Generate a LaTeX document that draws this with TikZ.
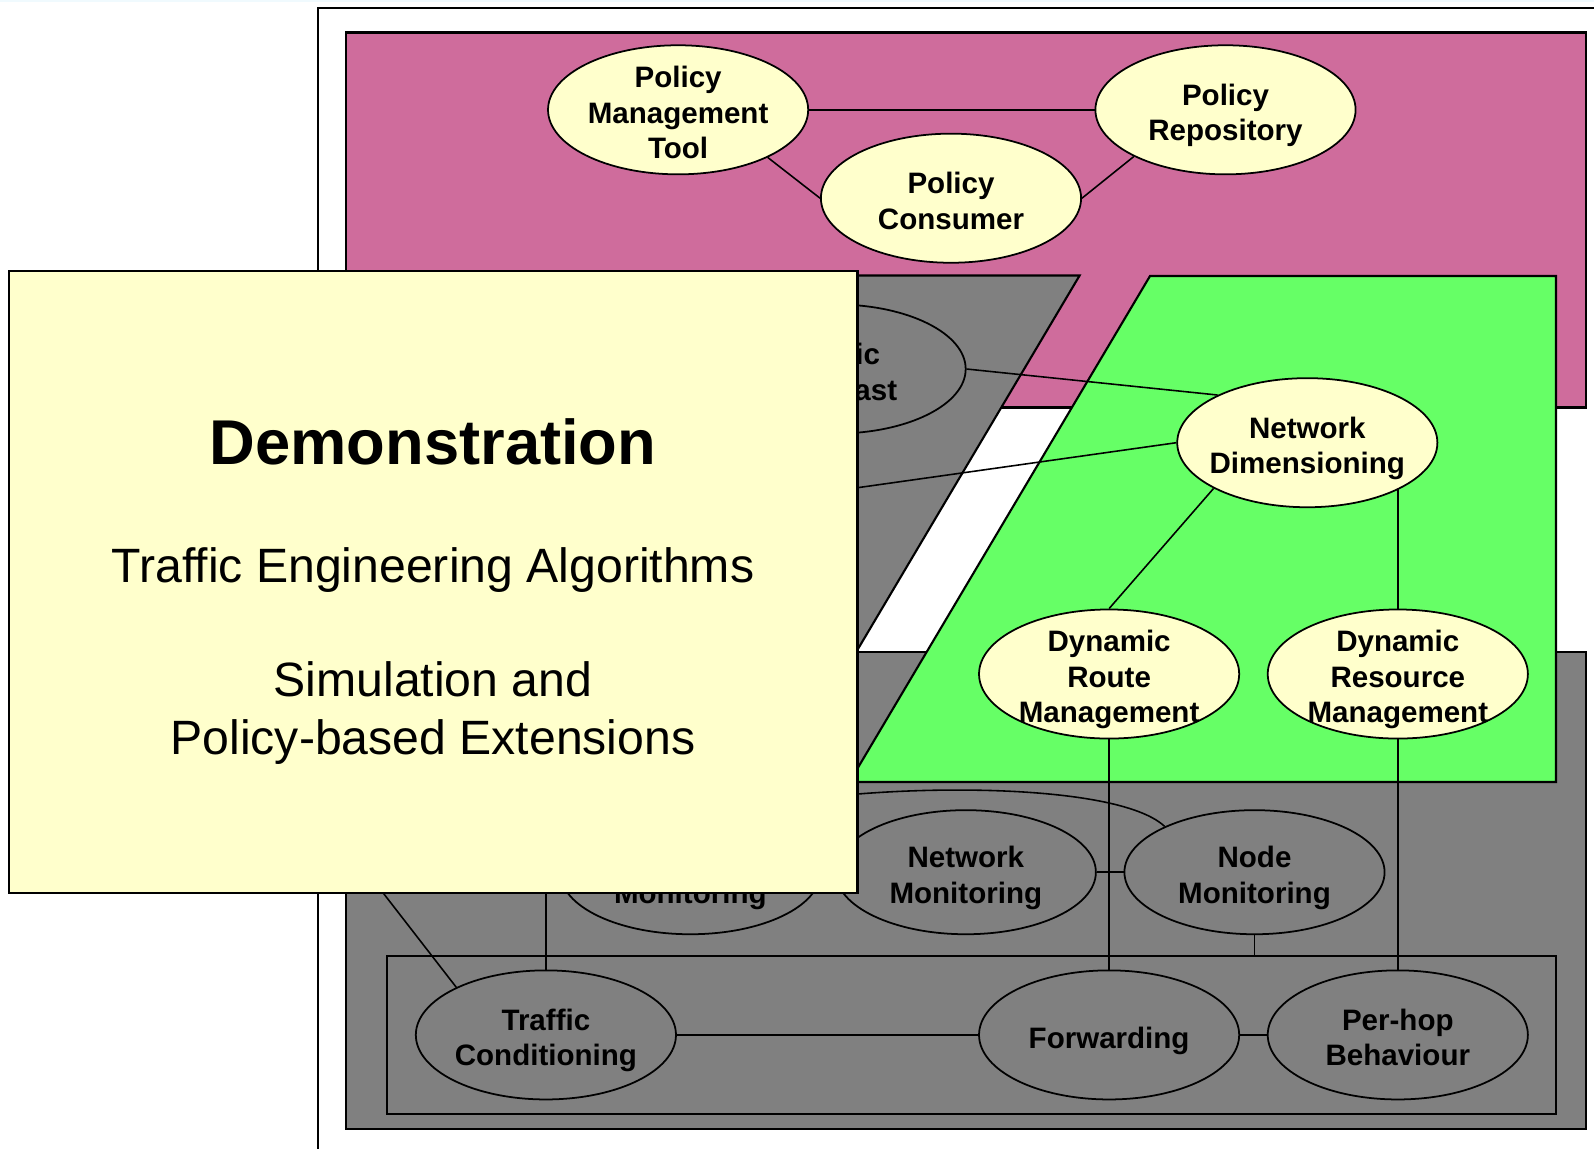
\documentclass[tikz,border=0pt]{standalone}
\usepackage{fontspec}
\setmainfont{Liberation Sans}
\usetikzlibrary{shapes.geometric}

\definecolor{policypink}{RGB}{207,108,156}
\definecolor{layergray}{RGB}{128,128,128}
\definecolor{layergreen}{RGB}{102,255,102}
\definecolor{paleyellow}{RGB}{255,255,204}

% lines of a component label, sitting a little low in the ellipse
\newcommand{\cbox}[1]{\raisebox{0pt}[\dimexpr\height+3.5pt\relax][\depth]{\begin{tabular}{@{}c@{}}#1\end{tabular}}}

\begin{document}
\begin{tikzpicture}[
		x=0.01cm,
		y=-0.01cm,
		line join=miter,
		layer/.style={draw=black, line width=0.6pt},
		comp/.style={ellipse, draw=black, line width=0.5pt, inner sep=-4mm,
			minimum width=2.6cm, minimum height=1.29cm,
			font=\fontsize{8.4}{10.1}\selectfont\bfseries},
		upper/.style={comp, fill=paleyellow},
		lower/.style={comp, fill=layergray},
		mon/.style={lower, minimum height=1.24cm},
		link/.style={draw=black, line width=0.45pt}
	]

	\useasboundingbox (0,0) rectangle (1594,1148);

	% Frame
	\fill[cyan!6] (0,0) rectangle (1594,2);
	\draw[layer, fill=white] (318.2,8.1) rectangle (1700,1300);

	% Layers
	\draw[layer, fill=policypink] (345.6,32.5) rectangle (1585.9,407.5);
	\draw[layer, fill=layergray] (345.6,275.5) -- (1079.6,275.5) -- (857,650.6) -- (345.6,650.6) -- cycle;
	\draw[layer, fill=layergray] (345.6,652.3) rectangle (1585.9,1128.7);
	\draw[layer, fill=layergreen] (1150,276) -- (1556,276) -- (1556,782) -- (849.4,782) -- cycle;
	\draw[layer] (387.3,955.6) rectangle (1556,1114);
	\coordinate (innertop) at (387.3,955.6);

	% Policy components
	\node[upper] (pmt) at (678.1,109.8) {\cbox{Policy\\Management\\Tool}};
	\node[upper] (prep) at (1225.5,109.8) {\cbox{Policy\\Repository}};
	\node[upper] (pcons) at (951,198.2) {\cbox{Policy\\Consumer}};

	% Traffic engineering components
	\node[lower] (tfc) at (835.6,369) {\cbox{Traffic\\Forecast}};
	\node[upper] (nd) at (1307.3,442.7) {\cbox{Network\\Dimensioning}};
	\node[upper] (drm) at (1109.1,674) {\cbox{Dynamic\\Route\\Management}};
	\node[upper] (dsm) at (1397.8,674) {\cbox{Dynamic\\Resource\\Management}};

	% Monitoring components
	\node[mon] (sls) at (690.3,872.2) {\cbox{\\Monitoring}};
	\node[mon] (netmon) at (965.8,872.2) {\cbox{Network\\Monitoring}};
	\node[mon] (nodemon) at (1254.5,872.2) {\cbox{Node\\Monitoring}};

	% Data path components
	\node[lower] (tc) at (545.9,1034.9) {\cbox{Traffic\\Conditioning}};
	\node[lower] (fwd) at (1109.1,1034.9) {\cbox{Forwarding}};
	\node[lower] (phb) at (1397.8,1034.9) {\cbox{Per-hop\\Behaviour}};

	% Policy links
	\draw[link] (pmt.east) -- (prep.west);
	\draw[link] (pmt.-28) -- (pcons.west);
	\draw[link] (pcons.east) -- (prep.207);

	% Traffic engineering links
	\coordinate (hidnd) at (711.6,508.3);
	\draw[link] (tfc.east) -- (nd.152);
	\draw[link] (hidnd) -- (nd.west);
	\draw[link] (nd.206) -- (drm.north);
	\draw[link] (nd.-27 -| dsm.north) -- (dsm.north);
	\draw[link] (drm.south) -- (fwd.north);
	\draw[link] (dsm.south) -- (phb.north);

	% Monitoring links
	\draw[link] (netmon.east) -- (nodemon.west);
	\draw[link] (nodemon.south) -- (nodemon.south |- innertop);
	\draw[link] (sls.50) .. controls (820,785) and (1110,775) .. (nodemon.153);

	% Data path links
	\coordinate (hidtca) at (545.9,820);
	\coordinate (hidtcb) at (346.6,845.8);
	\draw[link] (tc.east) -- (fwd.west);
	\draw[link] (fwd.east) -- (phb.west);
	\draw[link] (hidtca) -- (tc.north);
	\draw[link] (hidtcb) -- (tc.152);

	% Title box
	\draw[layer, fill=paleyellow] (9.1,271.4) rectangle (857.5,892.6);
	\node[anchor=base, font=\fontsize{18}{21}\selectfont\bfseries] (demo) at (433,464.6) {Demonstration};
	\node[anchor=base, font=\fontsize{13.7}{16.5}\selectfont] (tealg) at (433,582.5) {Traffic Engineering Algorithms};
	\node[anchor=base, font=\fontsize{13.7}{16.5}\selectfont] (simul) at (433,696.4) {Simulation and};
	\node[anchor=base, font=\fontsize{13.7}{16.5}\selectfont] (polext) at (433,754.3) {Policy-based Extensions};

\end{tikzpicture}
\end{document}
